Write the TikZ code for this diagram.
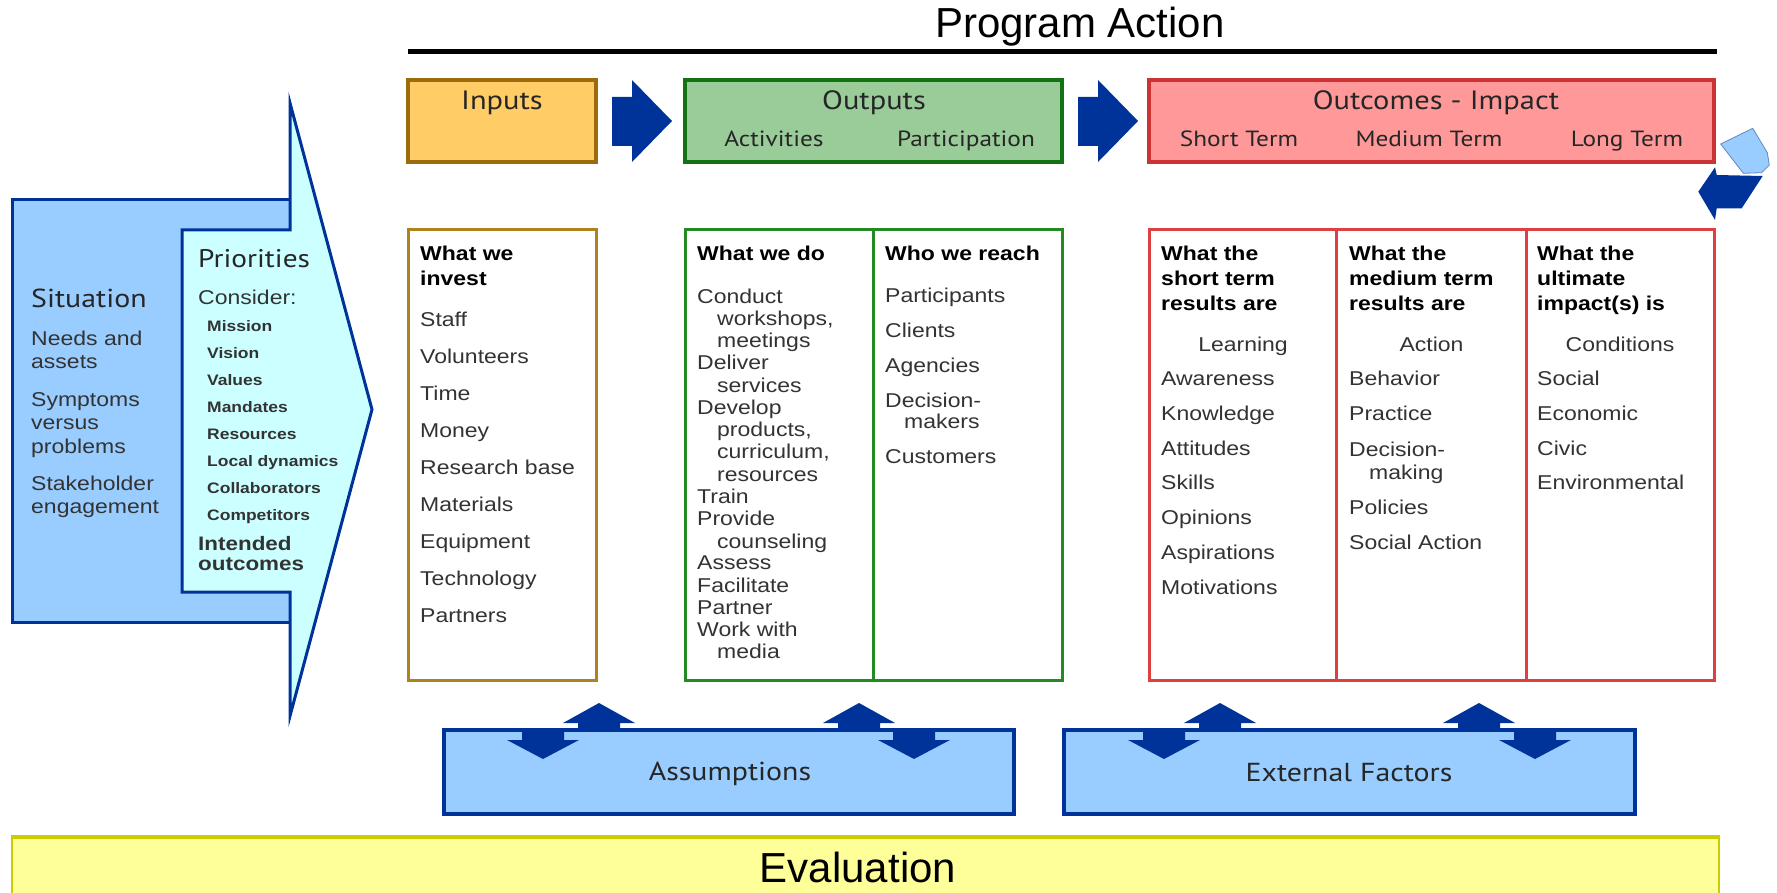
\documentclass[tikz,border=0pt]{standalone}
\usepackage{fontspec}
\setmainfont{Liberation Sans}[FakeStretch=1.15]
\newfontfamily\hdrfont{PT Sans}[FakeStretch=1.15]
\newfontfamily\plainfont{Liberation Sans}
\usetikzlibrary{calc}
\definecolor{navy}{HTML}{003399}
\definecolor{sitfill}{HTML}{99CCFF}
\definecolor{cyanfill}{HTML}{CCFFFF}
\definecolor{inpfill}{HTML}{FFCC66}
\definecolor{inpdraw}{HTML}{9C6B0C}
\definecolor{inplow}{HTML}{B0821E}
\definecolor{outfill}{HTML}{99CC99}
\definecolor{outdraw}{HTML}{137313}
\definecolor{outlow}{HTML}{248A24}
\definecolor{ocfill}{HTML}{FF9999}
\definecolor{ocdraw}{HTML}{CC3333}
\definecolor{oclow}{HTML}{DD4040}
\definecolor{evalfill}{HTML}{FFFF99}
\definecolor{evaldraw}{HTML}{CCCC00}
\definecolor{txtgray}{HTML}{333333}
\begin{document}
\begin{tikzpicture}[x=1pt, y=-1pt,
  itm/.style={anchor=base west, inner sep=0pt, text=txtgray, font=\fontsize{20}{22}\selectfont},
  itmc/.style={itm, anchor=base},
  hdg/.style={anchor=base west, inner sep=0pt, text=black, font=\bfseries\fontsize{20}{22}\selectfont},
  hbig/.style={anchor=base, inner sep=0pt, text=black!85, font=\hdrfont\fontsize{26.5}{30}\selectfont},
  hsub/.style={anchor=base, inner sep=0pt, text=black!85, font=\hdrfont\fontsize{22}{26}\selectfont},
  pri/.style={anchor=base west, inner sep=0pt, text=txtgray, font=\bfseries\fontsize{15.2}{17}\selectfont},
  topbox/.style={rectangle, line width=4pt, inner sep=0pt, minimum height=82pt},
  lowbox/.style={rectangle, line width=3pt, inner sep=0pt, fill=white, minimum height=450pt},
  bluebox/.style={rectangle, line width=3.5pt, draw=navy, fill=sitfill, inner sep=0pt, minimum height=84pt},
  bigarrow/.style={fill=navy},
]
\useasboundingbox (0,0) rectangle (1777,893);

% ---------- title ----------
\node[anchor=base, inner sep=0pt, font=\plainfont\fontsize{42}{46}\selectfont] (title) at (1080,38) {Program Action};
\coordinate (ruleL) at (408,52);
\coordinate (ruleR) at (1717,52);
\draw[line width=5pt] (ruleL) -- (ruleR);

% ---------- situation / priorities ----------
\fill[sitfill] (12,200) rectangle (290,622);
\draw[navy, line width=3pt] (290,200) -- (12,200) -- (12,622) -- (290,622);
\draw[navy, line width=3pt, fill=cyanfill, line join=miter]
  (182,230) -- (290,230) -- (290,103) -- (372,409.5) -- (290,716) -- (290,592) -- (182,592) -- cycle;

\node[anchor=base west, inner sep=0pt, text=black!85, font=\hdrfont\fontsize{26}{30}\selectfont] (sit) at (31,307) {Situation};
\foreach \y/\t [count=\i] in {345/Needs and,368.5/assets,406/Symptoms,429/versus,453/problems,490/Stakeholder,513/engagement}
  \node[itm] (sit\i) at (31,\y) {\t};

\node[anchor=base west, inner sep=0pt, text=black!85, font=\hdrfont\fontsize{25.5}{30}\selectfont] (pri) at (198,267.5) {Priorities};
\node[itm] (consider) at (198,304.5) {Consider:};
\foreach \y/\t [count=\i] in {326/Mission,353/Vision,380/Values,407/Mandates,434/Resources,461/Local dynamics,488/Collaborators,515/Competitors}
  \node[pri] (pri\i) at (207,\y+5) {\t};
\node[hdg, text=txtgray, font=\bfseries\fontsize{19.5}{22}\selectfont] (intended) at (198,550.5) {Intended};
\node[hdg, text=txtgray, font=\bfseries\fontsize{19.5}{22}\selectfont] (outcomesTxt) at (198,570) {outcomes};

% ---------- top boxes ----------
\node[topbox, draw=inpdraw, fill=inpfill, minimum width=188pt] (inputs) at (502,121) {};
\node[topbox, draw=outdraw, fill=outfill, minimum width=377pt] (outputs) at (873.5,121) {};
\node[topbox, draw=ocdraw, fill=ocfill, minimum width=565pt] (outcomes) at (1431.5,121) {};

\node[hbig] (tInputs) at (502,110) {Inputs};
\node[hbig] (tOutputs) at (874,110) {Outputs};
\node[hsub] (tAct) at (774,147) {Activities};
\node[hsub] (tPart) at (966,147) {Participation};
\node[hbig] (tOutc) at (1436,110) {Outcomes - Impact};
\node[hsub] (tShort) at (1239,147) {Short Term};
\node[hsub] (tMed) at (1429,147) {Medium Term};
\node[hsub] (tLong) at (1627,147) {Long Term};

% arrows between top boxes
\fill[bigarrow] (612,97) -- (632,97) -- (632,80) -- (672,121) -- (632,162) -- (632,146) -- (612,146) -- cycle;
\fill[bigarrow] (1078,97) -- (1098,97) -- (1098,80) -- (1138,121) -- (1098,162) -- (1098,146) -- (1078,146) -- cycle;

% cycle arrow
\filldraw[fill=sitfill, draw=navy!60, line width=0.8pt] (1720.7,144) -- (1752.7,128.3) -- (1767.3,152.7) -- (1769.3,165) -- (1761.7,172.7) -- (1743.3,173.3) -- cycle;
\fill[navy] (1762.7,176) -- (1741.7,208.3) -- (1716.7,208.3) -- (1715,220) -- (1698.3,191.7) -- (1715,167.3) -- (1716.7,175) -- cycle;

% ---------- lower boxes ----------
\node[lowbox, draw=inplow, minimum width=188pt] (inpdet) at (502,455) {};
\node[lowbox, draw=outlow, minimum width=377pt] (outdet) at (873.5,455) {};
\node[lowbox, draw=oclow, minimum width=565pt] (ocdet) at (1431.5,455) {};
\draw[outlow, line width=3pt] (outdet.north) -- (outdet.south);
\draw[oclow, line width=3pt] ($(ocdet.north west)!1/3!(ocdet.north east)$) -- ($(ocdet.south west)!1/3!(ocdet.south east)$);
\draw[oclow, line width=3pt] ($(ocdet.north west)!2/3!(ocdet.north east)$) -- ($(ocdet.south west)!2/3!(ocdet.south east)$);

% inputs list
\node[hdg] (h1a) at (420,261) {What we};
\node[hdg] (h1b) at (420,286) {invest};
\foreach \y/\t [count=\i] in {320/Staff,357/Volunteers,394/Time,431/Money,468/Research base,505/Materials,542/Equipment,579/Technology,616/Partners}
  \node[itm] (inv\i) at (420,\y+6) {\t};

% what we do
\node[hdg] (h2) at (697,261) {What we do};
\foreach \x/\y/\t [count=\i] in {697/297/Conduct,717/319/{workshops,},717/341/meetings,697/363/Deliver,717/386/services,697/408/Develop,717/430/{products,},717/452/{curriculum,},717/475/resources,697/497/Train,697/519/Provide,717/542/counseling,697/563/Assess,697/586/Facilitate,697/608/Partner,697/630/Work with,717/652/media}
  \node[itm] (do\i) at (\x,\y+6) {\t};

% who we reach
\node[hdg] (h3) at (885,261) {Who we reach};
\foreach \x/\y/\t [count=\i] in {885/296/Participants,885/331/Clients,885/366/Agencies,885/401/Decision-,904/422/makers,885/457/Customers}
  \node[itm] (reach\i) at (\x,\y+6) {\t};

% outcomes short
\node[hdg] (h4a) at (1161,261) {What the};
\node[hdg] (h4b) at (1161,286) {short term};
\node[hdg] (h4c) at (1161,310) {results are};
\node[itmc] (learn) at (1243,351) {Learning};
\foreach \y/\t [count=\i] in {379/Awareness,414/Knowledge,449/Attitudes,483/Skills,518/Opinions,553/Aspirations,588/Motivations}
  \node[itm] (st\i) at (1161,\y+6) {\t};

% outcomes medium
\node[hdg] (h5a) at (1349,261) {What the};
\node[hdg] (h5b) at (1349,286) {medium term};
\node[hdg] (h5c) at (1349,310) {results are};
\node[itmc] (act) at (1431.5,351) {Action};
\foreach \x/\y/\t [count=\i] in {1349/379/Behavior,1349/414/Practice,1349/450/Decision-,1369/473/making,1349/508/Policies,1349/543/Social Action}
  \node[itm] (mt\i) at (\x,\y+6) {\t};

% outcomes long
\node[hdg] (h6a) at (1537,261) {What the};
\node[hdg] (h6b) at (1537,286) {ultimate};
\node[hdg] (h6c) at (1537,310) {impact(s) is};
\node[itmc] (cond) at (1620,351) {Conditions};
\foreach \y/\t [count=\i] in {379/Social,414/Economic,449/Civic,483/Environmental}
  \node[itm] (lt\i) at (1537,\y+6) {\t};

% ---------- assumptions / external ----------
\foreach \c in {599,859,1220,1479}
  \fill[navy] ({\c-21},731) -- ({\c-21},723) -- ({\c-36},723) -- (\c,703) -- ({\c+36},723) -- ({\c+21},723) -- ({\c+21},731) -- cycle;
\node[bluebox, minimum width=570pt] (assum) at (729,772) {};
\node[bluebox, minimum width=571pt] (extf) at (1349.5,772) {};
\foreach \c in {543,914,1164,1535}
  \fill[navy] ({\c-21},729) -- ({\c+21},729) -- ({\c+21},740) -- ({\c+36},740) -- (\c,759) -- ({\c-36},740) -- ({\c-21},740) -- cycle;
\node[hbig, font=\hdrfont\fontsize{26}{30}\selectfont] (tAssum) at (730,780) {Assumptions};
\node[hbig, font=\hdrfont\fontsize{26}{30}\selectfont] (tExt) at (1349,781) {External Factors};

% ---------- evaluation ----------
\node[rectangle, fill=evalfill, inner sep=0pt, minimum width=1707pt, minimum height=70pt] (evalbar) at (865.5,871) {};
\draw[evaldraw, line width=2pt] (12,900) -- (12,836) -- (1719,836) -- (1719,900);
\draw[evaldraw, line width=4.5pt] (11,837) -- (1720,837);
\node[anchor=base, inner sep=0pt, font=\plainfont\fontsize{42}{46}\selectfont] (tEval) at (858,882) {Evaluation};
\end{tikzpicture}
\end{document}
